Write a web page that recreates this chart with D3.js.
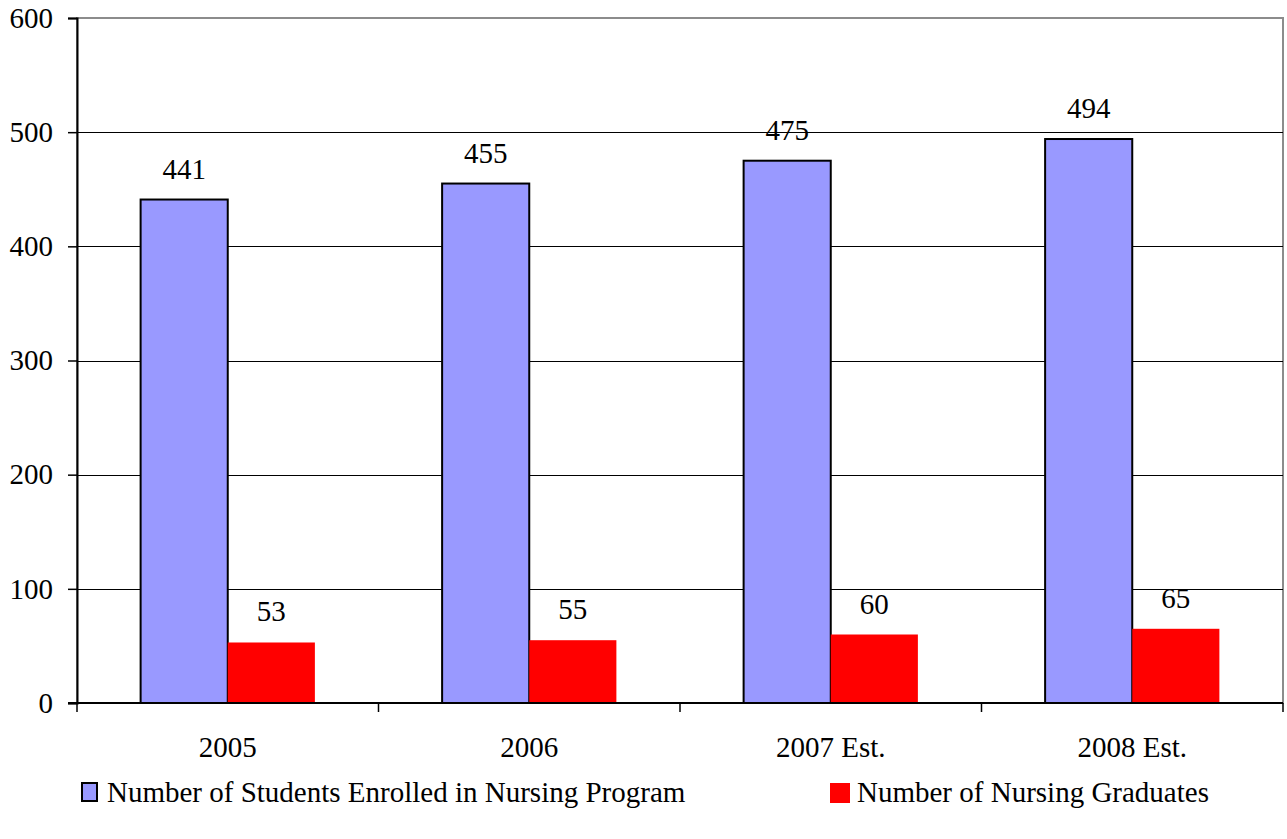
<!DOCTYPE html>
<html>
<head>
<meta charset="utf-8">
<script src="https://cdn.jsdelivr.net/npm/d3@7"></script>
<style>
  body { margin: 0; background: #fff; }
  svg { display: block; }
</style>
</head>
<body>
<svg id="chart" width="1287" height="839"></svg>
<script>
"use strict";

// data
const years = ["2005", "2006", "2007 Est.", "2008 Est."];
const enrolled = [441, 455, 475, 494];
const graduates = [53, 55, 60, 65];
const yTicks = [0, 100, 200, 300, 400, 500, 600];
const seriesNames = ["Number of Students Enrolled in Nursing Program", "Number of Nursing Graduates"];
const seriesColors = ["#9999ff", "#ff0000"];

const FONT = "Liberation Serif";
const FONT_SIZE = 29;

let svg = d3.select("#chart");

let margin = { left: 77, right: 1283, top: 18, bottom: 703 };

let x = d3.scaleBand()
    .domain(years)
    .range([margin.left, margin.right]);

let y = d3.scaleLinear()
    .domain([0, 600])
    .range([margin.bottom, margin.top]);

// bars take ~58% of each category
let groupWidth = x.bandwidth() * 0.578;
let barWidth = groupWidth / 2;

// plot area border (grey top/right)
svg.append("rect")
    .attr("x", margin.left)
    .attr("y", margin.top)
    .attr("width", margin.right - margin.left)
    .attr("height", margin.bottom - margin.top)
    .style("fill", "none")
    .style("stroke", "#8c8c8c")
    .style("stroke-width", 2);

// gridlines
svg.append("g")
    .selectAll("line")
    .data(yTicks.filter(d => d > 0 && d < 600))
    .enter().append("line")
    .attr("x1", margin.left)
    .attr("x2", margin.right)
    .attr("y1", d => Math.round(y(d)) + 0.5)
    .attr("y2", d => Math.round(y(d)) + 0.5)
    .style("stroke", "#000")
    .style("stroke-width", 1);

// bars
let groups = svg.append("g")
    .selectAll("g")
    .data(years)
    .enter().append("g");

groups.append("rect")
    .attr("x", (d, i) => x(d) + x.bandwidth() / 2 - barWidth)
    .attr("y", (d, i) => y(enrolled[i]))
    .attr("width", barWidth)
    .attr("height", (d, i) => y(0) - y(enrolled[i]))
    .style("fill", seriesColors[0])
    .style("stroke", "#000")
    .style("stroke-width", 2);

groups.append("rect")
    .attr("x", (d, i) => x(d) + x.bandwidth() / 2)
    .attr("y", (d, i) => y(graduates[i]))
    .attr("width", barWidth)
    .attr("height", (d, i) => y(0) - y(graduates[i]))
    .style("fill", seriesColors[1]);

// value labels
groups.append("text")
    .attr("x", (d, i) => x(d) + x.bandwidth() / 2 - barWidth / 2)
    .attr("y", (d, i) => y(enrolled[i]) - 21)
    .attr("text-anchor", "middle")
    .attr("font-family", FONT)
    .attr("font-size", FONT_SIZE)
    .text((d, i) => enrolled[i]);

groups.append("text")
    .attr("x", (d, i) => x(d) + x.bandwidth() / 2 + barWidth / 2)
    .attr("y", (d, i) => y(graduates[i]) - 21)
    .attr("text-anchor", "middle")
    .attr("font-family", FONT)
    .attr("font-size", FONT_SIZE)
    .text((d, i) => graduates[i]);

// y axis
let yAxis = svg.append("g")
    .attr("transform", "translate(" + margin.left + ",0)")
    .call(d3.axisLeft(y).tickValues(yTicks).tickSize(9).tickPadding(15));

yAxis.attr("font-family", FONT).attr("font-size", FONT_SIZE);
yAxis.select(".domain").style("stroke", "#000").style("stroke-width", 2);
yAxis.selectAll(".tick line").style("stroke", "#000").style("stroke-width", 1.5);
yAxis.selectAll("text").style("fill", "#000");

// x axis: ticks sit between categories
let xAxis = svg.append("g")
    .attr("transform", "translate(0," + margin.bottom + ")");

xAxis.append("line")
    .attr("x1", margin.left - 9)
    .attr("x2", margin.right)
    .style("stroke", "#000")
    .style("stroke-width", 2);

let boundaries = years.map(d => x(d)).concat([margin.right]);
xAxis.selectAll(".xtick")
    .data(boundaries)
    .enter().append("line")
    .attr("class", "xtick")
    .attr("x1", d => d)
    .attr("x2", d => d)
    .attr("y1", 0)
    .attr("y2", 9)
    .style("stroke", "#000")
    .style("stroke-width", 1.5);

xAxis.selectAll(".xlabel")
    .data(years)
    .enter().append("text")
    .attr("class", "xlabel")
    .attr("x", d => x(d) + x.bandwidth() / 2)
    .attr("y", 54)
    .attr("text-anchor", "middle")
    .attr("font-family", FONT)
    .attr("font-size", FONT_SIZE)
    .text(d => d);

// legend
let legendX = [77, 830];
let legend = svg.append("g")
    .selectAll("g")
    .data(seriesNames)
    .enter().append("g")
    .attr("transform", (d, i) => "translate(" + legendX[i] + ",782)");

legend.append("rect")
    .attr("x", (d, i) => i === 0 ? 5 : 0)
    .attr("y", 1)
    .attr("width", (d, i) => i === 0 ? 15 : 20)
    .attr("height", (d, i) => i === 0 ? 18 : 20)
    .style("fill", (d, i) => seriesColors[i])
    .style("stroke", (d, i) => i === 0 ? "#000" : "none")
    .style("stroke-width", 2);

legend.append("text")
    .attr("x", (d, i) => i === 0 ? 30 : 27)
    .attr("y", 20)
    .attr("font-family", FONT)
    .attr("font-size", FONT_SIZE)
    .text(d => d);
</script>
</body>
</html>
